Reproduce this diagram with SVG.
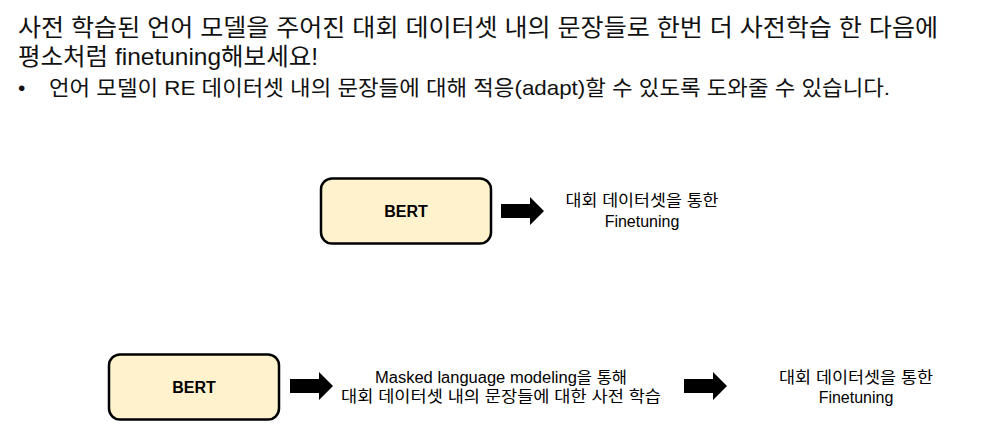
<svg xmlns="http://www.w3.org/2000/svg" width="983" height="436" viewBox="0 0 983 436">
<style>
.t{font-family:"Liberation Sans","Noto Sans CJK KR",sans-serif;fill:#111}
.box{fill:#FFF2CC;stroke:#000;stroke-width:2.5}
.lbl{font-family:"Liberation Sans","Noto Sans CJK KR",sans-serif;font-size:16px;fill:#000;text-anchor:middle}
.bert{font-family:"Liberation Sans",sans-serif;font-size:16px;font-weight:bold;fill:#000;text-anchor:middle}
.arr{fill:#000}
</style>
<defs>
<path id="ar" d="M0,-7 H29 V-14 L43,0 L29,14 V7 H0 Z"/>
</defs>
<rect width="983" height="436" fill="#fff"/>
<g id="title">
<text class="t" x="18" y="36" font-size="24" textLength="920" lengthAdjust="spacingAndGlyphs">사전 학습된 언어 모델을 주어진 대회 데이터셋 내의 문장들로 한번 더 사전학습 한 다음에</text>
<text class="t" x="18" y="65" font-size="24" textLength="300" lengthAdjust="spacingAndGlyphs">평소처럼 finetuning해보세요!</text>
<text class="t" x="18" y="95" font-size="21">•</text>
<text class="t" x="49" y="95" font-size="21" textLength="841" lengthAdjust="spacingAndGlyphs">언어 모델이 RE 데이터셋 내의 문장들에 대해 적응(adapt)할 수 있도록 도와줄 수 있습니다.</text>
</g>
<g id="bert1">
<rect class="box" x="321" y="178.5" width="170" height="65" rx="11"/>
<text class="bert" x="406" y="217">BERT</text>
</g>
<g id="label1">
<text class="lbl" x="642" y="206" textLength="153" lengthAdjust="spacingAndGlyphs">대회 데이터셋을 통한</text>
<text class="lbl" x="642" y="227">Finetuning</text>
</g>
<g id="bert2">
<rect class="box" x="109" y="354.5" width="170" height="65" rx="11"/>
<text class="bert" x="194" y="393">BERT</text>
</g>
<g id="label2">
<text class="lbl" x="501" y="383" textLength="252" lengthAdjust="spacingAndGlyphs">Masked language modeling을 통해</text>
<text class="lbl" x="501" y="402" textLength="320" lengthAdjust="spacingAndGlyphs">대회 데이터셋 내의 문장들에 대한 사전 학습</text>
</g>
<g id="label3">
<text class="lbl" x="856" y="383" textLength="154" lengthAdjust="spacingAndGlyphs">대회 데이터셋을 통한</text>
<text class="lbl" x="856" y="403">Finetuning</text>
</g>
<g id="connectors">
<use href="#ar" class="arr" x="501" y="211"/>
<use href="#ar" class="arr" x="290" y="386"/>
<use href="#ar" class="arr" x="684" y="386"/>
</g>
</svg>
